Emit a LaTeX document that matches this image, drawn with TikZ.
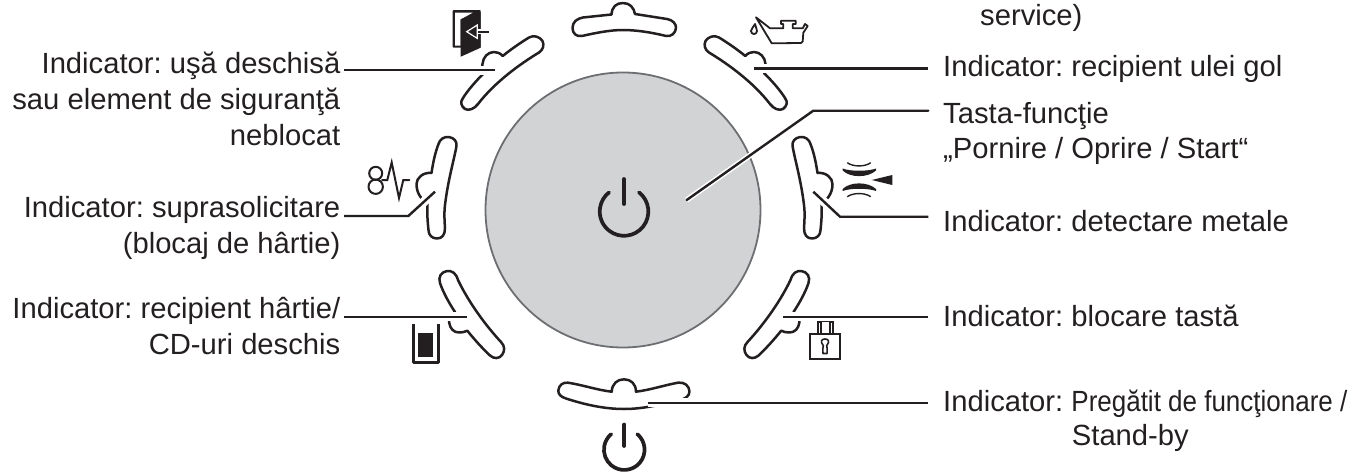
\documentclass[tikz,border=0pt]{standalone}
\usepackage{fontspec}
\setmainfont{Liberation Sans}
\newfontfamily\narrowfont[FakeStretch=0.89]{Liberation Sans}
\definecolor{ink}{HTML}{231F20}
\definecolor{keygray}{HTML}{D1D3D4}
\definecolor{keyedge}{HTML}{6D6E71}
\newcommand{\upperbutton}{%
  (502.7,56) .. controls (510,50) and (520,43) .. (529,37.5)
  .. controls (534,34.5) and (540,37) .. (542.5,41)
  .. controls (544.5,45) and (543,50) .. (539,52.5)
  .. controls (520,64) and (495,82) .. (478,104)
  .. controls (474,109) and (469,111) .. (465,109)
  .. controls (461,106) and (460,102) .. (463,98)
  .. controls (468,90) and (476,81) .. (484,73)
  .. controls (482,70) and (481,67) .. (482.5,64)
  .. controls (483,57) and (488,52) .. (494,52)
  .. controls (497,52) and (500,53) .. (502.7,56) -- cycle}
\newcommand{\sidebutton}{%
  (431.5,173) .. controls (433,163) and (435,153) .. (438.5,144)
  .. controls (440,139) and (444,136.5) .. (449,137)
  .. controls (454,138) and (457,141) .. (456.5,146)
  .. controls (454,160) and (448,180) .. (445,205)
  .. controls (444,213) and (444.5,221) .. (445,228)
  .. controls (445,235) and (442,238.5) .. (437,238.5)
  .. controls (432,238.5) and (428.5,235) .. (428.5,230)
  .. controls (427.5,221) and (427,213) .. (427.5,204)
  .. controls (423,200) and (416.5,195) .. (416.5,184)
  .. controls (416.5,178) and (423,172) .. (431.5,173) -- cycle}
\newcommand{\lowerbutton}{%
  (449,322) .. controls (450,329) and (454,332.5) .. (459,332.5)
  .. controls (462,332.5) and (465,332) .. (467.3,330.7)
  .. controls (474,339) and (482,348) .. (490,355.5)
  .. controls (494,359) and (499,359) .. (502,355)
  .. controls (505,351) and (505,346) .. (501,342)
  .. controls (488,328) and (470,305) .. (458,280)
  .. controls (456,273) and (452,270.5) .. (447,271)
  .. controls (441,272) and (438,277) .. (440,283)
  .. controls (443,292) and (449,303) .. (455,312)
  .. controls (451,315) and (449,318) .. (449,322) -- cycle}
\tikzset{
  x=1pt,y=-1pt,
  btn/.style={draw=ink,line width=2.5pt,fill=white,line join=round},
  leader/.style={draw=ink,line width=2.4pt,line join=miter,preaction={draw=white,line width=9pt}},
  keyleader/.style={draw=ink,line width=2.4pt,line join=miter,line cap=round,preaction={draw=white,line width=5.5pt}},
  lab/.style={inner sep=0pt,text=ink,font=\fontsize{29.2}{36}\selectfont\frenchspacing},
  labr/.style={lab,align=right,anchor=base east},
  labl/.style={lab,anchor=base west},
  glyph/.style={draw=ink,line width=1.9pt,line join=round,line cap=round},
  powerline/.style={draw=ink,line width=3.7pt,line cap=round}
}
\begin{document}
\begin{tikzpicture}
\useasboundingbox (0,0) rectangle (1365,474);
% central key
\node[circle,draw=keyedge,fill=keygray,line width=1.8pt,minimum size=275pt,inner sep=0pt] (key) at (623,210) {};
\draw[powerline] (624,179) -- (624,204);
\draw[powerline] (639,192.35) arc[start angle=-52,end angle=232,radius=24.3];
% buttons
\draw[btn] (583,17.5) -- (611.5,14.5) .. controls (612,7) and (616,3) .. (623,3) .. controls (630,3) and (634,8) .. (635,14)
  -- (667,19) .. controls (673,20) and (676,24) .. (676,27.5) .. controls (676,33) and (671,37) .. (666,36)
  .. controls (650,32) and (635,30) .. (623,30) .. controls (610,30) and (595,33) .. (582,36)
  .. controls (576,37) and (572.5,33) .. (572.5,28) .. controls (572.5,22) and (577,18.5) .. (583,17.5) -- cycle;
\draw[btn] \upperbutton;
\begin{scope}[xshift=1248pt,xscale=-1]
\draw[btn] \upperbutton;
\end{scope}
\draw[btn] \sidebutton;
\begin{scope}[xshift=1249pt,xscale=-1]
\draw[btn] \sidebutton;
\end{scope}
\draw[btn] \lowerbutton;
\begin{scope}[xshift=1248.5pt,xscale=-1]
\draw[btn] \lowerbutton;
\end{scope}
\draw[btn] (568,382.7) .. controls (583,385) and (597,390) .. (611.7,391.7)
  .. controls (612,384) and (617,379.3) .. (624,379.3) .. controls (631,379.3) and (636,384) .. (636,391.7)
  .. controls (650,390) and (665,385) .. (678,382.7) .. controls (684,381.5) and (689.5,386) .. (689.5,391.5)
  .. controls (689.5,396) and (685,399) .. (680,400) .. controls (660,405) and (642,409) .. (624,409)
  .. controls (603,409) and (583,404) .. (566,398.5) .. controls (561,397) and (558,394) .. (558.3,390.5)
  .. controls (559,385) and (563,382) .. (568,382.7) -- cycle;
% door icon
\fill[ink,rounded corners=0.8pt] (452.7,10) rectangle (480.7,47.7);
\fill[white] (455,12.7) -- (472.7,12.7) -- (460.7,19.3) -- (460.7,45.7) -- (455,45.7) -- cycle;
\fill[ink] (460.7,19.3) -- (480.7,12) -- (480.7,47.7) -- (460.7,56.7) -- cycle;
\draw[white,line width=4.5pt] (472,31.7) -- (480.7,31.7);
\draw[ink,line width=2pt] (472,31.7) -- (489,31.7);
\draw[white,fill=ink,line width=1.2pt] (466.7,31.7) -- (477.3,25) -- (477.3,38.4) -- cycle;
% oil can icon
\draw[glyph,line width=1.8pt] (756,17.3) -- (770,28.3) -- (783.3,28.3) -- (783.3,24) -- (781,24) -- (781,20.7) -- (795.7,20.7) -- (795.7,24) -- (792.7,24) -- (792.7,28.3) -- (802.7,28.3)
  -- (805,24) -- (807.7,26) -- (803.3,32.7) -- (802.7,41.5) -- (801,43) -- (771.7,43.3) -- cycle;
\draw[glyph,line width=1.8pt] (755,24) .. controls (753.5,27) and (751,29) .. (751,31) .. controls (751,35) and (757,35) .. (757,31) .. controls (757,29) and (755.5,27) .. (755,24) -- cycle;
% overload icon
\draw[glyph,line width=2pt] (375.7,173.3) circle[radius=6.5];
\draw[glyph,line width=2pt] (375.7,186.7) circle[radius=7.2];
\draw[glyph,line width=2pt,line join=miter] (382,180) -- (387.3,180) -- (391.7,162.5) -- (399,198) -- (403.3,180) -- (409.3,180);
% metal detection icon
\fill[ink] (842.7,168.5) .. controls (850,171.5) and (868,171.5) .. (876,168.5) -- (876,170.5) .. controls (868,178) and (850,178) .. (842.7,170.5) -- cycle;
\draw[ink,line width=1.4pt] (847.3,162.7) .. controls (853,167) and (865,167) .. (870.7,162.7);
\fill[ink] (842.7,191) .. controls (850,188) and (868,188) .. (876,191) -- (876,189) .. controls (868,181.5) and (850,181.5) .. (842.7,189) -- cycle;
\draw[ink,line width=1.4pt] (847.3,196.7) .. controls (853,192.5) and (865,192.5) .. (870.7,196.7);
\fill[ink] (871.7,180) -- (892.3,175) -- (892.3,185) -- cycle;
% paper bin icon
\draw[ink,line width=3pt,line join=round] (413.3,324) -- (413.3,362.5) -- (438,362.5) -- (438,324);
\fill[ink] (418.3,333.3) rectangle (432.7,357.3);
% lock icon
\draw[ink,line width=2pt] (810,334) rectangle (840,359.3);
\fill[ink] (816.7,322) rectangle (821.7,333);
\fill[ink] (829.3,322) rectangle (834,333);
\draw[white,line width=0.9pt] (819.2,323) -- (819.2,333);
\draw[white,line width=0.9pt] (831.6,323) -- (831.6,333);
\draw[ink,line width=1.2pt] (817,321.3) -- (834,321.3);
\draw[ink,line width=1.6pt,line join=round] (822.8,349) -- (823.3,345.6) .. controls (819.5,341) and (822,339) .. (825,339) .. controls (828,339) and (830.5,341) .. (826.7,345.6) -- (827.2,349) -- (827,353.5) -- (823,353.5) -- cycle;
% lower power icon
\draw[powerline] (624.3,424.5) -- (624.3,446);
\draw[powerline] (637.3,434.1) arc[start angle=-50,end angle=230,radius=20.3];
% labels
\node[labl] (lservice) at (980,25) {service)};
\node[labl] (loil) at (943,76.7) {Indicator: recipient ulei gol};
\node[labl] (lstart) at (943,123.3) {Tasta-funcţie};
\node[labl] (lstart2) at (943,158) {„Pornire / Oprire / Start“};
\node[labl] (lmetal) at (943,231) {Indicator: detectare metale};
\node[labl] (llock) at (943,326.7) {Indicator: blocare tastă};
\node[labl] (lready) at (943,411) {Indicator: {\narrowfont Pregătit de funcţionare /}};
\node[labl] (lstand) at (1071.7,445) {Stand-by};
\node[labr] (ldoor) at (340.5,145) {Indicator: uşă deschisă\\sau element de siguranţă\\neblocat};
\node[labr] (lover) at (340.5,253.3) {Indicator: suprasolicitare\\(blocaj de hârtie)};
\node[labr] (lbin) at (340.5,354.3) {Indicator: recipient hârtie/\\CD-uri deschis};
% leader points
\coordinate (a1) at (344,70); \coordinate (a2) at (495,70);
\coordinate (b1) at (344,216); \coordinate (b2) at (408.3,216); \coordinate (b3) at (435,191.7);
\coordinate (c1) at (344,316.7); \coordinate (c2) at (466.7,316.7);
\coordinate (d1) at (928.3,68.5); \coordinate (d2) at (753.5,68.5);
\coordinate (e1) at (928.3,110.7); \coordinate (e2) at (813.3,110.7); \coordinate (e3) at (686.7,200);
\coordinate (f1) at (928.3,216.7); \coordinate (f2) at (840,216.7); \coordinate (f3) at (813.3,191.7);
\coordinate (g1) at (928.3,316.7); \coordinate (g2) at (783.3,316.7);
\coordinate (h1) at (928.3,402.7); \coordinate (h2) at (648.3,402.7);
\draw[leader] (a1) -- (a2);
\draw[leader] (b1) -- (b2) -- (b3);
\draw[leader] (c1) -- (c2);
\draw[leader] (d1) -- (d2);
\draw[keyleader] (e1) -- (e2) -- (e3);
\draw[leader] (f1) -- (f2) -- (f3);
\draw[leader] (g1) -- (g2);
\draw[leader] (h1) -- (h2);
\end{tikzpicture}
\end{document}
